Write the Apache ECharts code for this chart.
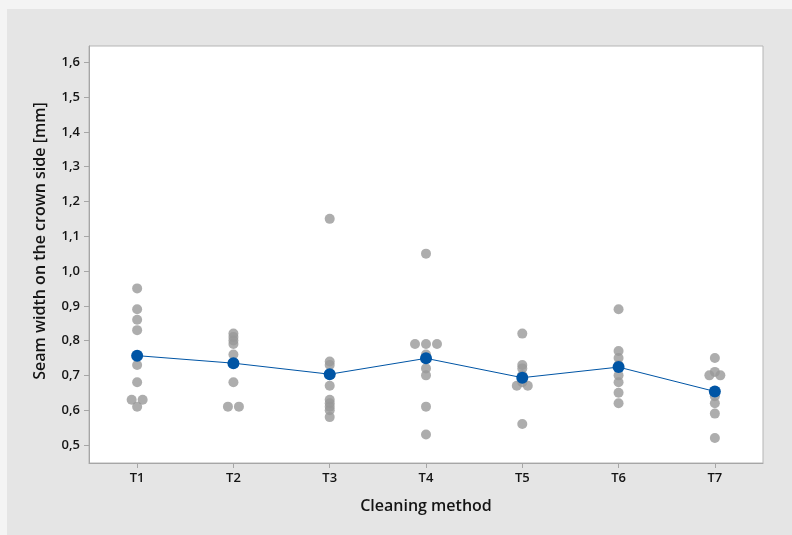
<!DOCTYPE html>
<html>
<head>
<meta charset="utf-8">
<script src="https://cdn.jsdelivr.net/npm/echarts@6/dist/echarts.min.js"></script>
<style>
  html, body { margin: 0; padding: 0; background: #f4f4f4; }
  #chart { width: 792px; height: 535px; }
</style>
</head>
<body>
<div id="chart"></div>
<script>
// Cleaning methods on the x axis
const categories = ['T1', 'T2', 'T3', 'T4', 'T5', 'T6', 'T7'];

// Individual seam width measurements [mm] per cleaning method
const valuesT1 = [0.95, 0.89, 0.86, 0.83, 0.73, 0.68, 0.63, 0.63, 0.61];
const valuesT2 = [0.82, 0.81, 0.80, 0.79, 0.76, 0.68, 0.61, 0.61];
const valuesT3 = [1.15, 0.74, 0.73, 0.67, 0.63, 0.62, 0.61, 0.60, 0.58];
const valuesT4 = [1.05, 0.79, 0.79, 0.79, 0.76, 0.72, 0.70, 0.61, 0.53];
const valuesT5 = [0.82, 0.73, 0.72, 0.70, 0.69, 0.68, 0.67, 0.67, 0.56];
const valuesT6 = [0.89, 0.77, 0.75, 0.73, 0.70, 0.68, 0.65, 0.62];
const valuesT7 = [0.75, 0.71, 0.70, 0.70, 0.64, 0.62, 0.59, 0.52];

const groups = [valuesT1, valuesT2, valuesT3, valuesT4, valuesT5, valuesT6, valuesT7];

// Y axis tick labels
const yTicks = [0.5, 0.6, 0.7, 0.8, 0.9, 1.0, 1.1, 1.2, 1.3, 1.4, 1.5, 1.6];

// Group means, connected by the line
const means = groups.map(g => g.reduce((a, b) => a + b, 0) / g.length);

// Individual points; equal values in a group are placed side by side
const DOT_STEP = 11;
const pointData = [];
groups.forEach((g, i) => {
  const counts = {};
  g.forEach(v => { const k = v.toFixed(2); counts[k] = (counts[k] || 0) + 1; });
  const seen = {};
  g.forEach(v => {
    const k = v.toFixed(2);
    const n = counts[k];
    const idx = seen[k] || 0;
    seen[k] = idx + 1;
    const dx = (idx - (n - 1) / 2) * DOT_STEP;
    pointData.push({ value: [i, v], symbolOffset: [dx, 0] });
  });
});

const fontFamily = '"Open Sans", "Noto Sans", sans-serif';
const axisGray = '#a6a6a6';
const textColor = '#141414';

const chart = echarts.init(document.getElementById('chart'), null, { renderer: 'canvas' });

chart.setOption({
  animation: false,
  backgroundColor: 'transparent',
  graphic: [
    {
      type: 'rect',
      z: -10,
      shape: { x: 7, y: 9, width: 792 - 7, height: 535 - 9 },
      style: { fill: '#e5e5e5' }
    },
    {
      type: 'text',
      rotation: Math.PI / 2,
      x: 40,
      y: 241,
      style: {
        text: 'Seam width on the crown side [mm]',
        font: '600 16px ' + fontFamily,
        fill: textColor,
        align: 'center',
        verticalAlign: 'middle'
      }
    }
  ],
  grid: {
    left: 89,
    top: 46,
    right: 29,
    bottom: 72,
    show: true,
    backgroundColor: '#ffffff',
    borderColor: '#b5b5b5',
    borderWidth: 1
  },
  xAxis: {
    type: 'category',
    data: categories,
    boundaryGap: true,
    name: 'Cleaning method',
    nameLocation: 'middle',
    nameGap: 35,
    nameTextStyle: { fontFamily, fontSize: 16, fontWeight: 600, color: textColor },
    axisLine: { show: true, lineStyle: { color: axisGray, width: 1 } },
    axisTick: { show: true, alignWithLabel: true, length: 5, lineStyle: { color: axisGray } },
    axisLabel: { fontFamily, fontSize: 13, fontWeight: 600, color: textColor, margin: 9 },
    splitLine: { show: false }
  },
  yAxis: {
    type: 'value',
    min: 0.448,
    max: 1.647,
    axisLine: { show: true, lineStyle: { color: axisGray, width: 1 } },
    axisTick: { show: true, length: 5, customValues: yTicks, lineStyle: { color: axisGray } },
    axisLabel: {
      customValues: yTicks,
      fontFamily,
      fontSize: 13,
      fontWeight: 600,
      color: textColor,
      margin: 9,
      formatter: v => v.toFixed(1).replace('.', ',')
    },
    splitLine: { show: false }
  },
  series: [
    {
      name: 'Individual values',
      type: 'scatter',
      data: pointData,
      symbol: 'circle',
      symbolSize: 10,
      itemStyle: { color: '#999999' },
      z: 2
    },
    {
      name: 'Mean',
      type: 'line',
      data: means,
      symbol: 'circle',
      symbolSize: 12,
      showSymbol: true,
      lineStyle: { color: '#0055a5', width: 1 },
      itemStyle: { color: '#0055a5', borderWidth: 0 },
      z: 3
    }
  ]
});
</script>
</body>
</html>
